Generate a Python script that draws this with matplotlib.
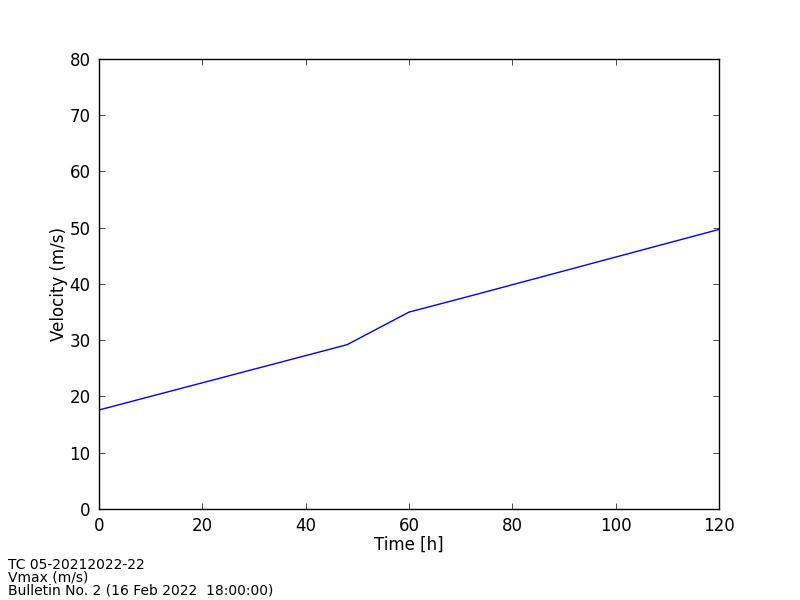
import matplotlib
matplotlib.use('Agg')
import matplotlib.pyplot as plt

# forecast hours and max wind values
time_h = [0, 12, 24, 36, 48, 60, 72, 96, 120]
vmax = [17.6, 20.5, 23.4, 26.3, 29.2, 35.0, 37.9, 43.8, 49.7]

info_lines = ['TC 05-20212022-22', 'Vmax (m/s)', 'Bulletin No. 2 (16 Feb 2022  18:00:00)']

fig = plt.figure(figsize=(8, 6), dpi=100)
ax = fig.add_axes([0.12375, 0.1517, 0.775, 0.75])

ax.plot(time_h, vmax, color='blue', linewidth=1)
ax.set_xlim(0, 120)
ax.set_ylim(0, 80)
ax.set_xlabel('Time [h]', fontsize=12, labelpad=0)
ax.set_ylabel('Velocity (m/s)', fontsize=12, labelpad=1)

ax.tick_params(direction='in', top=True, right=True, length=4, width=0.5,
               labelsize=12, pad=6)
for s in ax.spines.values():
    s.set_linewidth(1)

fig.text(0.01, 0.005, '\n'.join(info_lines), fontsize=10, va='bottom',
         ha='left', linespacing=0.85)

fig.savefig('out.png', dpi=100)
